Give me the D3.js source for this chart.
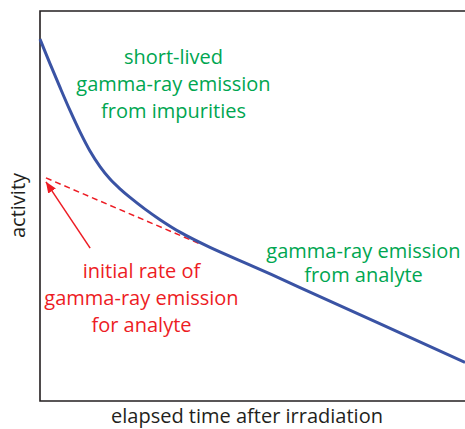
<!DOCTYPE html>
<html>
<head>
<meta charset="utf-8">
<script src="https://cdn.jsdelivr.net/npm/d3@7"></script>
<style>
  html, body { margin: 0; padding: 0; background: #fff; }
  svg { display: block; }
  text { font-family: "Open Sans", "Noto Sans", sans-serif; }
</style>
</head>
<body>
<svg id="chart" width="465" height="429"></svg>
<script>
// Measured activity after irradiation (arbitrary units)
const timeValues     = [0, 2.35, 4.71, 7.06, 9.41, 11.76, 14.12, 16.47, 18.82, 21.18, 24.71, 28.24, 32.94, 40, 51.06, 61.18, 100];
const activityValues = [92.8, 86.5, 80.4, 74.5, 69.0, 64.1, 60.1, 56.9, 54.4, 52.2, 49.2, 46.5, 43.3, 39.4, 34.1, 29.1, 9.9];

// Extrapolated analyte line back to the irradiation time
const extrapTime     = [1.4, 37.6];
const extrapActivity = [57.2, 40.3];

// Arrow pointing at the intercept (tail, head)
const arrowTime      = [11.8, 1.4];
const arrowActivity  = [39.2, 56.2];

const xLabel = "elapsed time after irradiation";
const yLabel = "activity";
const impurityLines = ["short-lived", "gamma-ray emission", "from impurities"];
const analyteLines  = ["gamma-ray emission", "from analyte"];
const initialLines  = ["initial rate of", "gamma-ray emission", "for analyte"];

const svg = d3.select("#chart");
const margin = { left: 40, top: 11, right: 0, bottom: 28 };
const W = 465, H = 429;

const x = d3.scaleLinear().domain([0, 100]).range([margin.left, W - margin.right]);
const y = d3.scaleLinear().domain([0, 100]).range([H - margin.bottom, margin.top]);

const axisColor = "#231f20";
const blue = "#3a53a4";
const red = "#ed1c24";
const green = "#00a651";
const fontSize = 20;

// Frame: left, top and bottom edges
svg.append("path")
  .attr("d", `M${x(100)},${y(100)} H${x(0)} V${y(0)} H${x(100)}`)
  .attr("fill", "none")
  .attr("stroke", axisColor)
  .attr("stroke-width", 1.6);

// Dashed extrapolation
const extrap = extrapTime.map((t, i) => [t, extrapActivity[i]]);
svg.append("path")
  .datum(extrap)
  .attr("d", d3.line().x(d => x(d[0])).y(d => y(d[1])))
  .attr("fill", "none")
  .attr("stroke", red)
  .attr("stroke-width", 1.5)
  .attr("stroke-dasharray", "6,4");

// Total activity curve
const pts = timeValues.map((t, i) => [t, activityValues[i]]);
svg.append("path")
  .datum(pts)
  .attr("d", d3.line().x(d => x(d[0])).y(d => y(d[1])).curve(d3.curveCatmullRom.alpha(0.5)))
  .attr("fill", "none")
  .attr("stroke", blue)
  .attr("stroke-width", 3);

// Arrow
svg.append("defs").append("marker")
  .attr("id", "head")
  .attr("viewBox", "0 0 10 10")
  .attr("refX", 10).attr("refY", 5)
  .attr("markerWidth", 11).attr("markerHeight", 11)
  .attr("markerUnits", "userSpaceOnUse")
  .attr("orient", "auto")
  .append("path")
  .attr("d", "M0,0.8 L10,5 L0,9.2 Z")
  .attr("fill", red);

svg.append("line")
  .attr("x1", x(arrowTime[0])).attr("y1", y(arrowActivity[0]))
  .attr("x2", x(arrowTime[1])).attr("y2", y(arrowActivity[1]))
  .attr("stroke", red)
  .attr("stroke-width", 1.5)
  .attr("marker-end", "url(#head)");

// Text blocks
function block(lines, cx, baseline, step, color) {
  const t = svg.append("text")
    .attr("text-anchor", "middle")
    .attr("font-size", fontSize)
    .attr("fill", color);
  lines.forEach((s, i) => {
    t.append("tspan").attr("x", cx).attr("y", baseline + i * step).text(s);
  });
}
block(impurityLines, 173.5, 64, 26.8, green);
block(analyteLines, 363.5, 258, 24.3, green);
block(initialLines, 141.5, 278, 27, red);

// Axis titles
svg.append("text")
  .attr("x", 247).attr("y", 423)
  .attr("text-anchor", "middle")
  .attr("font-size", fontSize)
  .attr("fill", axisColor)
  .text(xLabel);

svg.append("text")
  .attr("transform", "translate(25,205.5) rotate(-90)")
  .attr("text-anchor", "middle")
  .attr("font-size", fontSize)
  .attr("fill", axisColor)
  .text(yLabel);
</script>
</body>
</html>
